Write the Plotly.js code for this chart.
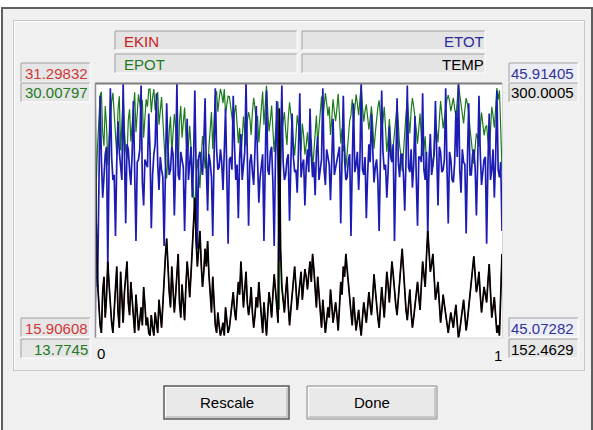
<!DOCTYPE html>
<html>
<head>
<meta charset="utf-8">
<script src="https://cdn.plot.ly/plotly-3.0.1.min.js"></script>
<style>
html,body{margin:0;padding:0;background:#ffffff;}
#chart{width:593px;height:430px;}
</style>
</head>
<body>
<div id="chart"></div>
<script>
// ---- data (one value per sample) ----
const seriesNames = ['EKIN', 'EPOT', 'ETOT', 'TEMP'];
const xEndLabels = ['0', '1'];
const buttonLabels = ['Rescale', 'Done'];

const ekinRange = [15.90608, 31.29832];
const epotRange = [13.7745, 30.00797];
const etotRange = [45.07282, 45.91405];
const tempRange = [152.4629, 300.0005];

const temp = [300.0,208.5,184.9,170.2,159.8,155.4,179.0,187.9,164.3,176.1,
196.7,183.4,170.2,161.3,155.4,168.7,182.0,193.8,167.2,158.4,
190.8,174.6,161.3,179.0,189.3,196.7,173.1,165.7,184.9,176.1,
164.3,155.4,177.5,167.2,156.9,162.8,170.2,159.8,182.0,171.6,
159.8,164.3,155.4,153.9,165.7,158.4,153.9,167.2,161.3,155.4,
174.6,165.7,158.4,171.6,187.9,199.7,210.0,190.8,179.0,170.2,
193.8,180.5,167.2,177.5,192.3,201.1,173.1,164.3,183.4,173.1,
162.8,182.0,196.7,187.9,176.1,189.3,202.6,214.4,233.6,208.5,
193.8,204.1,214.4,195.2,182.0,190.8,204.1,193.8,208.5,189.3,
174.6,167.2,187.9,173.1,159.8,155.4,167.2,159.8,153.9,156.9,
161.3,153.9,170.2,162.8,155.4,158.4,164.3,171.6,179.0,168.7,
162.8,174.6,184.9,177.5,196.7,183.4,170.2,180.5,190.8,173.1,
165.7,171.6,182.0,167.2,158.4,165.7,176.1,170.2,184.9,174.6,
161.3,155.4,173.1,162.8,153.9,167.2,179.0,173.1,164.3,177.5,
189.3,180.5,170.2,161.3,285.2,204.1,182.0,174.6,167.2,179.0,
187.9,171.6,159.8,168.7,179.0,184.9,193.8,182.0,168.7,176.1,
183.4,190.8,174.6,182.0,192.3,187.9,180.5,189.3,196.7,184.9,
201.1,192.3,177.5,170.2,187.9,176.1,164.3,158.4,174.6,165.7,
155.4,162.8,170.2,164.3,180.5,171.6,161.3,167.2,173.1,165.7,
156.9,170.2,184.9,177.5,193.8,187.9,201.1,192.3,182.0,173.1,
167.2,159.8,176.1,165.7,156.9,162.8,168.7,159.8,153.9,164.3,
173.1,167.2,161.3,170.2,179.0,171.6,165.7,176.1,189.3,180.5,
170.2,164.3,158.4,170.2,182.0,173.1,164.3,177.5,190.8,183.4,
173.1,184.9,196.7,189.3,179.0,171.6,165.7,174.6,187.9,193.8,
204.1,192.3,176.1,168.7,162.8,171.6,180.5,167.2,158.4,164.3,
171.6,177.5,184.9,176.1,168.7,183.4,196.7,189.3,182.0,199.7,
214.4,202.6,190.8,195.2,201.1,187.9,174.6,179.0,184.9,173.1,
161.3,168.7,177.5,171.6,165.7,159.8,155.4,161.3,167.2,162.8,
158.4,165.7,171.6,161.3,152.5,156.9,162.8,167.2,174.6,165.7,
156.9,162.8,170.2,177.5,184.9,190.8,199.7,189.3,179.0,183.4,
190.8,177.5,167.2,174.6,182.0,177.5,173.1,184.9,195.2,179.0,
164.3,170.2,176.1,165.7,155.4,159.8,153.9,177.5,201.1];

const ekin = [31.298,21.755,19.292,17.753,16.676,16.214,18.677,19.600,17.137,18.369,
20.524,19.138,17.753,16.830,16.214,17.599,18.984,20.216,17.445,16.522,
19.908,18.215,16.830,18.677,19.754,20.524,18.061,17.291,19.292,18.369,
17.137,16.214,18.523,17.445,16.368,16.983,17.753,16.676,18.984,17.907,
16.676,17.137,16.214,16.060,17.291,16.522,16.060,17.445,16.830,16.214,
18.215,17.291,16.522,17.907,19.600,20.831,21.909,19.908,18.677,17.753,
20.216,18.830,17.445,18.523,20.062,20.985,18.061,17.137,19.138,18.061,
16.983,18.984,20.524,19.600,18.369,19.754,21.139,22.371,24.372,21.755,
20.216,21.293,22.371,20.370,18.984,19.908,21.293,20.216,21.755,19.754,
18.215,17.445,19.600,18.061,16.676,16.214,17.445,16.676,16.060,16.368,
16.830,16.060,17.753,16.983,16.214,16.522,17.137,17.907,18.677,17.599,
16.983,18.215,19.292,18.523,20.524,19.138,17.753,18.830,19.908,18.061,
17.291,17.907,18.984,17.445,16.522,17.291,18.369,17.753,19.292,18.215,
16.830,16.214,18.061,16.983,16.060,17.445,18.677,18.061,17.137,18.523,
19.754,18.830,17.753,16.830,29.759,21.293,18.984,18.215,17.445,18.677,
19.600,17.907,16.676,17.599,18.677,19.292,20.216,18.984,17.599,18.369,
19.138,19.908,18.215,18.984,20.062,19.600,18.830,19.754,20.524,19.292,
20.985,20.062,18.523,17.753,19.600,18.369,17.137,16.522,18.215,17.291,
16.214,16.983,17.753,17.137,18.830,17.907,16.830,17.445,18.061,17.291,
16.368,17.753,19.292,18.523,20.216,19.600,20.985,20.062,18.984,18.061,
17.445,16.676,18.369,17.291,16.368,16.983,17.599,16.676,16.060,17.137,
18.061,17.445,16.830,17.753,18.677,17.907,17.291,18.369,19.754,18.830,
17.753,17.137,16.522,17.753,18.984,18.061,17.137,18.523,19.908,19.138,
18.061,19.292,20.524,19.754,18.677,17.907,17.291,18.215,19.600,20.216,
21.293,20.062,18.369,17.599,16.983,17.907,18.830,17.445,16.522,17.137,
17.907,18.523,19.292,18.369,17.599,19.138,20.524,19.754,18.984,20.831,
22.371,21.139,19.908,20.370,20.985,19.600,18.215,18.677,19.292,18.061,
16.830,17.599,18.523,17.907,17.291,16.676,16.214,16.830,17.445,16.983,
16.522,17.291,17.907,16.830,15.906,16.368,16.983,17.445,18.215,17.291,
16.368,16.983,17.753,18.523,19.292,19.908,20.831,19.754,18.677,19.138,
19.908,18.523,17.445,18.215,18.984,18.523,18.061,19.292,20.370,18.677,
17.137,17.753,18.369,17.291,16.214,16.676,16.060,18.523,20.985];

const etot = [45.073,45.451,45.241,45.628,45.872,45.662,45.536,45.603,45.679,45.704,
45.308,45.645,45.897,45.670,45.594,45.611,45.409,45.653,45.788,45.687,
45.628,45.594,45.914,45.662,45.451,45.712,45.695,45.628,45.578,45.679,
45.855,45.620,45.393,45.653,45.662,45.695,45.906,45.586,45.510,45.662,
45.645,45.636,45.813,45.687,45.435,45.611,45.679,45.712,45.880,45.645,
45.561,45.670,45.628,45.603,45.376,45.653,45.847,45.695,45.611,45.628,
45.704,45.679,45.477,45.645,45.914,45.611,45.594,45.687,45.662,45.636,
45.426,45.662,45.796,45.594,45.645,45.704,45.536,45.653,45.889,45.620,
45.367,45.670,45.687,45.645,45.611,45.712,45.864,45.628,45.493,45.679,
45.653,45.603,45.409,45.662,45.897,45.695,45.628,45.636,45.695,45.653,
45.561,45.687,45.830,45.611,45.384,45.662,45.670,45.628,45.872,45.704,
45.594,45.645,45.468,45.670,45.746,45.594,45.636,45.687,45.914,45.636,
45.443,45.653,45.679,45.620,45.578,45.695,45.838,45.662,45.519,45.603,
45.653,45.679,45.393,45.645,45.889,45.628,45.611,45.687,45.704,45.586,
45.376,45.662,45.855,45.636,45.325,45.704,45.906,45.653,45.594,45.611,
45.662,45.679,45.460,45.645,45.813,45.670,45.620,45.628,45.552,45.695,
45.880,45.603,45.645,45.662,45.510,45.636,45.695,45.620,45.830,45.679,
45.603,45.653,45.544,45.687,45.737,45.594,45.628,45.662,45.897,45.628,
45.578,45.695,45.670,45.645,45.527,45.670,45.796,45.611,45.636,45.653,
45.687,45.704,45.451,45.636,45.872,45.662,45.594,45.603,45.662,45.679,
45.409,45.645,45.847,45.620,45.645,45.687,45.561,45.662,45.914,45.628,
45.611,45.670,45.468,45.611,45.712,45.653,45.813,45.695,45.586,45.636,
45.662,45.594,45.426,45.662,45.889,45.687,45.628,45.645,45.536,45.620,
45.771,45.670,45.653,45.712,45.393,45.628,45.864,45.653,45.603,45.679,
45.679,45.611,45.493,45.662,45.906,45.636,45.620,45.695,45.569,45.645,
45.805,45.603,45.443,45.670,45.670,45.653,45.880,45.628,45.594,45.687,
45.409,45.662,45.746,45.611,45.645,45.679,45.855,45.645,45.510,45.704,
45.687,45.620,45.628,45.662,45.897,45.636,45.451,45.687,45.662,45.594,
45.586,45.653,45.822,45.670,45.914,45.628,45.552,45.695,45.653,45.645,
45.418,45.662,45.847,45.611,45.611,45.679,45.695,45.636,45.477,45.653,
45.872,45.687,45.578,45.620,45.662,45.670,45.384,45.645,45.813,45.594,
45.628,45.695,45.536,45.662,45.889,45.628,45.603,45.653,45.426];

const epot = [13.775,23.70,25.95,27.88,29.20,29.45,26.86,26.00,28.54,27.34,
24.78,26.51,28.14,28.84,29.38,28.01,26.43,25.44,28.34,29.17,
25.72,27.38,29.08,26.99,25.70,25.19,27.63,28.34,26.29,27.31,
28.72,29.41,26.87,28.21,29.29,28.71,28.15,28.91,26.53,27.76,
28.97,28.50,29.60,29.63,28.14,29.09,29.62,28.27,29.05,29.43,
27.35,28.38,29.11,27.70,25.78,24.82,23.94,25.79,26.93,27.88,
25.49,26.85,28.03,27.12,25.85,24.63,27.53,28.55,26.52,27.58,
28.44,26.68,25.27,25.99,27.28,25.95,24.40,23.28,21.52,23.87,
25.15,24.38,23.32,25.28,26.63,25.80,24.57,25.41,23.74,25.93,
27.44,28.16,25.81,27.60,29.22,29.48,28.18,28.96,29.64,29.29,
28.73,29.63,28.08,28.63,29.17,29.14,28.53,27.72,27.20,28.11,
28.61,27.43,26.18,27.15,25.22,26.46,27.88,26.86,26.01,27.58,
28.15,27.75,26.70,28.18,29.06,28.40,27.47,27.91,26.23,27.39,
28.82,29.47,27.33,28.66,29.83,28.18,26.93,27.63,28.57,27.06,
25.62,26.83,28.10,28.81,15.57,24.41,26.92,27.44,28.15,26.93,
26.06,27.77,28.78,28.05,27.14,26.38,25.40,26.64,27.95,27.33,
26.74,25.70,27.43,26.68,25.45,26.04,26.87,25.87,25.31,26.39,
24.62,25.59,27.02,27.93,26.14,27.23,28.49,29.14,27.68,28.34,
29.36,28.71,27.92,28.51,26.70,27.76,28.97,28.17,27.58,28.36,
29.32,27.95,26.16,27.11,25.66,26.06,24.61,25.54,26.68,27.62,
27.96,28.97,27.48,28.33,29.28,28.70,27.96,28.99,29.85,28.49,
27.55,28.23,28.64,27.86,27.04,27.75,28.52,27.33,25.83,26.81,
27.91,28.46,28.90,27.91,26.91,27.63,28.49,27.12,25.63,26.48,
27.71,26.38,25.13,25.96,26.72,27.72,28.57,27.44,26.00,25.46,
24.39,25.55,27.12,28.06,28.92,27.73,26.79,28.25,29.05,28.51,
27.90,27.08,26.15,27.30,28.07,26.52,25.36,25.87,26.61,24.86,
23.04,24.52,25.84,25.24,24.66,26.08,27.64,26.97,26.22,27.64,
28.86,28.02,27.11,27.76,28.61,28.96,29.24,28.86,28.22,28.61,
29.06,28.36,27.92,28.84,30.007,29.26,28.57,28.25,27.44,28.35,
29.05,28.68,28.09,27.09,26.32,25.77,24.86,25.88,26.80,26.52,
25.96,27.16,28.13,27.41,26.68,27.15,27.32,26.35,25.44,26.92,
28.49,27.94,27.17,28.37,29.68,28.95,29.54,27.13,24.44];

// ---- page geometry helpers (pixels -> paper fraction) ----
const W = 593, H = 430;
const px = x => x / W;
const py = y => 1 - y / H;
const FONT = '"Liberation Sans", Arial, sans-serif';

const N = temp.length;
const xs = temp.map((_, i) => i / (N - 1));

const shapes = [];
function rect(x0, y0, x1, y1, fill, lineColor, lw, layer) {
  shapes.push({type: 'rect', xref: 'paper', yref: 'paper',
    x0: px(x0), x1: px(x1), y0: py(y1), y1: py(y0),
    fillcolor: fill, line: {color: lineColor || 'rgba(0,0,0,0)', width: lw || 0},
    layer: layer || 'below'});
}
function seg(x0, y0, x1, y1, color, w, layer) {
  shapes.push({type: 'line', xref: 'paper', yref: 'paper',
    x0: px(x0), x1: px(x1), y0: py(y0), y1: py(y1),
    line: {color: color, width: w || 1}, layer: layer || 'below'});
}
function sunken(x0, y0, x1, y1, fill) {
  rect(x0, y0, x1, y1, fill);
  seg(x0, y0, x1, y0, '#a0a0a0', 1);
  seg(x0, y0, x0, y1, '#a0a0a0', 1);
  seg(x0, y1, x1, y1, '#ffffff', 1);
  seg(x1, y0, x1, y1, '#ffffff', 1);
}
function button(x0, y0, x1, y1, dark) {
  rect(x0, y0, x1, y1, '#e9e9e9', dark ? '#5a5a5a' : '#8a8a8a', dark ? 1.5 : 1);
  seg(x0 + 1.5, y0 + 1.5, x1 - 1.5, y0 + 1.5, '#ffffff', 1);
  seg(x0 + 1.5, y0 + 1.5, x0 + 1.5, y1 - 1.5, '#ffffff', 1);
  seg(x0 + 1.5, y1 - 2, x1 - 1.5, y1 - 2, '#a8a8a8', 1);
  seg(x1 - 2, y0 + 1.5, x1 - 2, y1 - 1.5, '#a8a8a8', 1);
}

// window + group box
rect(2, 8, 592, 432, '#f0f0f0', '#5e5e5e', 2);
seg(13, 20.5, 585, 20.5, '#c8c8c8', 1);
seg(13.5, 20, 13.5, 371, '#c8c8c8', 1);
seg(13, 370.5, 585, 370.5, '#c8c8c8', 1);
seg(584.5, 20, 584.5, 371, '#c8c8c8', 1);
seg(14.5, 21.5, 583.5, 21.5, '#ffffff', 1);
seg(14.5, 21.5, 14.5, 369.5, '#ffffff', 1);

// legend boxes
sunken(115, 31, 297, 50, '#e4e4e4');
sunken(302, 31, 485, 50, '#e4e4e4');
sunken(115, 54, 297, 73, '#e4e4e4');
sunken(302, 54, 485, 73, '#e4e4e4');
// range value boxes
sunken(21, 63, 90, 82, '#e6e6e6');
sunken(21, 83, 90, 102, '#e6e6e6');
sunken(21, 318, 90, 337, '#e6e6e6');
sunken(21, 339, 90, 358, '#e6e6e6');
sunken(509, 63, 578, 82, '#eceef6');
sunken(509, 83, 578, 102, '#e6e6e6');
sunken(509, 318, 578, 337, '#eceef6');
sunken(509, 339, 578, 358, '#e6e6e6');

// plot area background
rect(95, 83, 502, 338, '#ffffff');
// plot frame
seg(95, 83.5, 502, 83.5, '#7c7c7c', 2, 'above');
seg(95.5, 83, 95.5, 338, '#8a8a9a', 1.5, 'above');
seg(95, 338, 502.5, 338, '#d6d6d6', 1, 'above');
seg(502.5, 83, 502.5, 338, '#d6d6d6', 1, 'above');

// buttons
button(164, 386, 289, 419, true);
button(307, 386, 437, 419, false);

// ---- text ----
const ann = [];
function txt(x, y, text, color, anchor, size) {
  ann.push({xref: 'paper', yref: 'paper', x: px(x), y: py(y), text: text,
    xanchor: anchor, yanchor: 'middle', showarrow: false,
    font: {family: FONT, size: size || 15, color: color}});
}
const colors = {EKIN: '#cc2020', EPOT: '#1f7a1f', ETOT: '#2b2b9c', TEMP: '#000000'};
txt(122, 41, seriesNames[0], colors.EKIN, 'left');
txt(122, 64, seriesNames[1], colors.EPOT, 'left');
txt(486, 41, seriesNames[2], colors.ETOT, 'right');
txt(486, 64, seriesNames[3], colors.TEMP, 'right');

txt(90, 73, String(ekinRange[1]), '#d03838', 'right');
txt(90, 93, String(epotRange[1]), '#1f7a1f', 'right');
txt(90, 328, String(ekinRange[0]), '#d03838', 'right');
txt(90, 349, String(epotRange[0]), '#1f7a1f', 'right');
txt(509, 73, String(etotRange[1]), '#33339a', 'left');
txt(509, 93, String(tempRange[1]), '#000000', 'left');
txt(509, 328, String(etotRange[0]), '#33339a', 'left');
txt(509, 349, String(tempRange[0]), '#000000', 'left');

txt(95, 353, xEndLabels[0], '#000000', 'left');
txt(504, 355, xEndLabels[1], '#000000', 'right');

txt(226.5, 402.5, buttonLabels[0], '#000000', 'center');
txt(372, 402.5, buttonLabels[1], '#000000', 'center');

// ---- traces (each series on its own hidden scale) ----
const traces = [
  {x: xs, y: ekin, yaxis: 'y', line: {color: '#d01010', width: 1.0}},
  {x: xs, y: epot, yaxis: 'y2', line: {color: '#1a7a1a', width: 1.2}},
  {x: xs, y: etot, yaxis: 'y3', line: {color: '#1c1cb4', width: 1.7}},
  {x: xs, y: temp, yaxis: 'y4', line: {color: '#000000', width: 1.7}}
].map((t, k) => Object.assign({type: 'scatter', mode: 'lines', name: seriesNames[k],
  hoverinfo: 'skip', showlegend: false, cliponaxis: true}, t));

const hiddenY = r => ({range: r, domain: [py(338), py(83)], showgrid: false, zeroline: false,
  showticklabels: false, showline: false, ticks: '', fixedrange: true});

const layout = {
  width: W, height: H,
  margin: {l: 0, r: 0, t: 0, b: 0},
  paper_bgcolor: '#ffffff',
  plot_bgcolor: 'rgba(0,0,0,0)',
  showlegend: false,
  xaxis: {range: [0, 1], domain: [px(95), px(502)], showgrid: false, zeroline: false,
    showticklabels: false, showline: false, ticks: '', fixedrange: true},
  yaxis: hiddenY(ekinRange),
  yaxis2: Object.assign(hiddenY(epotRange), {overlaying: 'y'}),
  yaxis3: Object.assign(hiddenY(etotRange), {overlaying: 'y'}),
  yaxis4: Object.assign(hiddenY(tempRange), {overlaying: 'y'}),
  shapes: shapes,
  annotations: ann
};

Plotly.newPlot('chart', traces, layout, {staticPlot: true, displayModeBar: false});
</script>
</body>
</html>
